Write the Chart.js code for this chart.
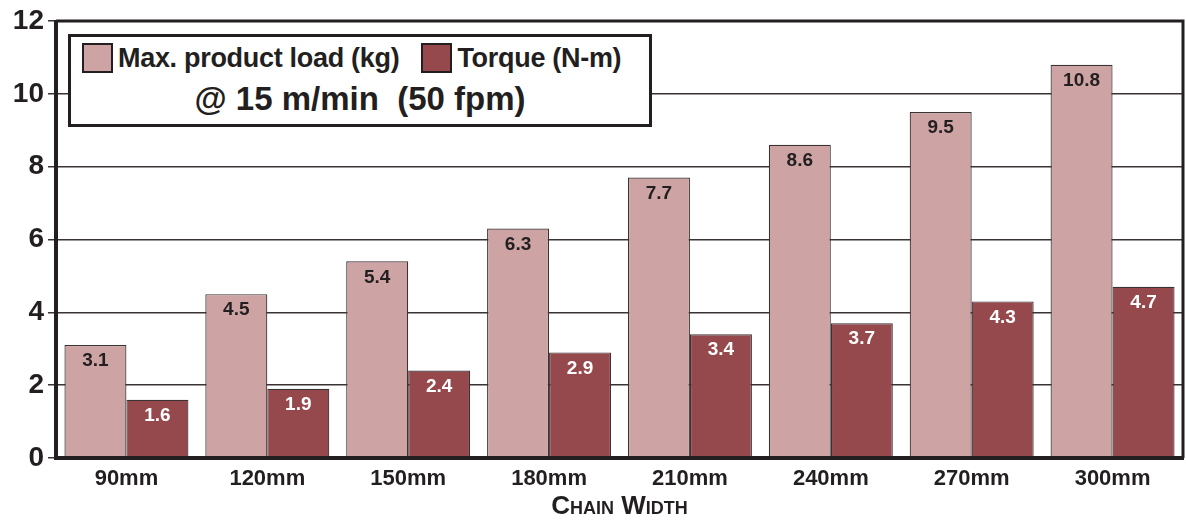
<!DOCTYPE html>
<html>
<head>
<meta charset="utf-8">
<script src="https://cdn.jsdelivr.net/npm/chart.js@4"></script>
<style>
  body { margin: 0; background: #fff; }
  #wrap { position: relative; width: 1186px; height: 523px; }
  #legendBox {
    position: absolute; left: 68px; top: 34px; width: 578px; height: 87px;
    border: 3px solid #231f20; background: #fff;
    font-family: "Liberation Sans", Arial, sans-serif;
    font-weight: bold; color: #231f20;
  }
  #legendRow {
    position: absolute; left: 11px; top: 6px; height: 30px;
    display: flex; align-items: center; white-space: nowrap;
    font-size: 27px; letter-spacing: -0.3px;
  }
  #legendRow .sw { display: inline-block; width: 27px; height: 26px; border: 2px solid #231f20; margin-right: 5px; }
  #legendRow .gap { display: inline-block; width: 22px; }
  #legendSub {
    position: absolute; left: 0; right: 0; top: 42px; height: 40px; line-height: 40px;
    text-align: center; font-size: 33px; white-space: pre;
  }
</style>
</head>
<body>
<div id="wrap">
  <canvas id="chainChart" width="1186" height="523"></canvas>
  <div id="legendBox">
    <div id="legendRow"></div>
    <div id="legendSub">@ 15 m/min  (50 fpm)</div>
  </div>
</div>
<script>
// data
const widths = ["90mm", "120mm", "150mm", "180mm", "210mm", "240mm", "270mm", "300mm"];
const maxLoad = [3.1, 4.5, 5.4, 6.3, 7.7, 8.6, 9.5, 10.8];
const torque = [1.6, 1.9, 2.4, 2.9, 3.4, 3.7, 4.3, 4.7];
const yTicks = [0, 2, 4, 6, 8, 10, 12];

const lightColor = "#cda4a3";
const darkColor = "#96494d";
const ink = "#231f20";
const fontFamily = "'Liberation Sans', Arial, sans-serif";

// value labels inside the top of each bar
const barLabels = {
    id: "barLabels",
    afterDatasetsDraw(chart) {
        const ctx = chart.ctx;
        ctx.save();
        ctx.font = "bold 19px " + fontFamily;
        ctx.textAlign = "center";
        ctx.textBaseline = "middle";
        chart.data.datasets.forEach((ds, i) => {
            const meta = chart.getDatasetMeta(i);
            ctx.fillStyle = i === 0 ? ink : "#ffffff";
            meta.data.forEach((bar, j) => {
                ctx.fillText(ds.data[j].toFixed(1), bar.x, bar.y + 16);
            });
        });
        ctx.restore();
    }
};

// frame round the plot
const frame = {
    id: "frame",
    afterDraw(chart) {
        const a = chart.chartArea;
        const ctx = chart.ctx;
        ctx.save();
        ctx.strokeStyle = ink;
        ctx.lineWidth = 3;
        ctx.beginPath();
        ctx.moveTo(a.left, a.top);
        ctx.lineTo(a.right, a.top);
        ctx.lineTo(a.right, a.bottom);
        ctx.stroke();
        ctx.lineWidth = 4;
        ctx.beginPath();
        ctx.moveTo(a.left, a.top - 1);
        ctx.lineTo(a.left, a.bottom);
        ctx.lineTo(a.right + 1, a.bottom);
        ctx.stroke();
        ctx.restore();
    }
};

const ctx = document.getElementById("chainChart").getContext("2d");
const chainChart = new Chart(ctx, {
    type: "bar",
    data: {
        labels: widths,
        datasets: [{
            label: "Max. product load (kg)",
            data: maxLoad,
            backgroundColor: lightColor,
            borderColor: "#3a3334",
            borderWidth: 1.2,
            categoryPercentage: 0.88,
            barPercentage: 1.0,
        }, {
            label: "Torque (N-m)",
            data: torque,
            backgroundColor: darkColor,
            borderColor: "#3a3334",
            borderWidth: 1.2,
            categoryPercentage: 0.88,
            barPercentage: 1.0,
        }],
    },
    options: {
        responsive: false,
        animation: false,
        layout: { padding: { top: 21, right: 3, left: 0, bottom: 0 } },
        plugins: {
            legend: { display: false },
            tooltip: { enabled: false },
        },
        scales: {
            x: {
                afterFit(scale) { scale.height = 65; },
                grid: { display: false },
                border: { display: false },
                ticks: {
                    color: ink,
                    padding: 0,
                    font: { family: fontFamily, size: 22, weight: "bold" },
                },
                title: {
                    display: true,
                    text: "Chain Width",
                    color: ink,
                    padding: { top: 0, bottom: 1 },
                    font: { family: fontFamily, size: 26, weight: "small-caps bold" },
                },
            },
            y: {
                min: 0,
                max: 12,
                afterBuildTicks(scale) {
                    scale.ticks = yTicks.map(v => ({ value: v }));
                },
                afterFit(scale) { scale.width = 56; },
                grid: {
                    color: "#3a3334",
                    lineWidth: 1.5,
                    tickLength: 8,
                    drawTicks: true,
                },
                border: { display: false },
                ticks: {
                    color: ink,
                    padding: 4,
                    font: { family: fontFamily, size: 28, weight: "bold" },
                },
            },
        },
    },
    plugins: [barLabels, frame],
});

// legend row built from the datasets
document.getElementById("legendRow").innerHTML = chainChart.data.datasets.map(ds =>
    '<span class="sw" style="background:' + ds.backgroundColor + '"></span>' + ds.label
).join('<span class="gap"></span>');
</script>
</body>
</html>
